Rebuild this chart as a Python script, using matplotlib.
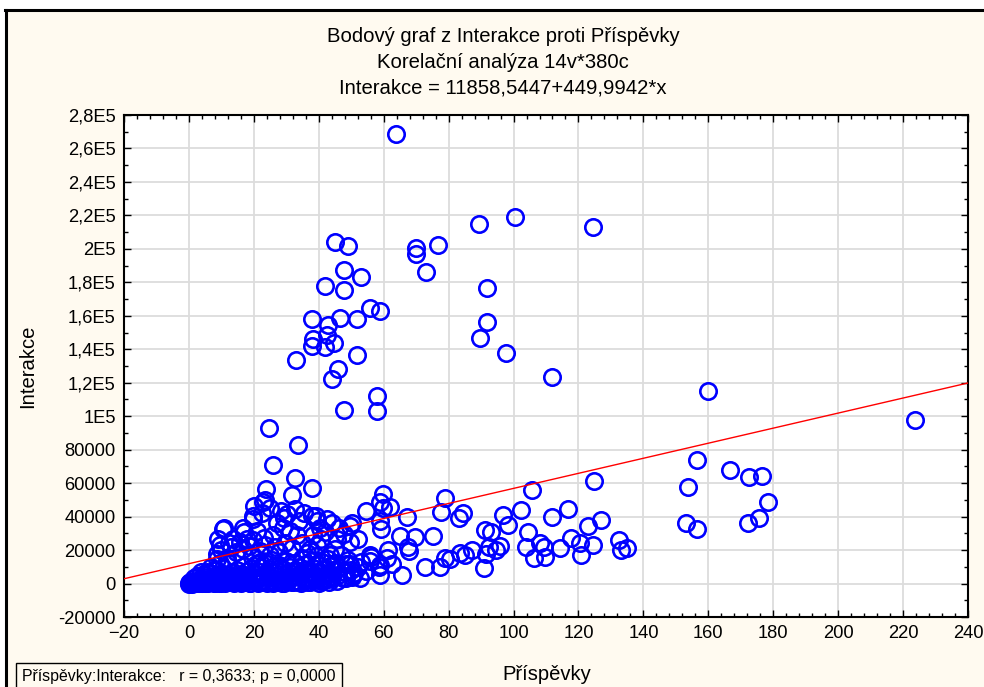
import matplotlib.pyplot as plt
from matplotlib.patches import Rectangle
from matplotlib.ticker import MultipleLocator, FuncFormatter

plt.rcParams['font.family'] = ['Liberation Sans', 'DejaVu Sans']

# Points: (Příspěvky, Interakce)
high_points = [
    (63.7, 268400), (100.3, 219000), (89.5, 215000), (124.6, 213000), (44.9, 204000),
    (48.9, 201700), (69.8, 200500), (69.8, 197000), (76.6, 202400), (72.9, 186000),
    (47.7, 187300), (52.9, 183000), (41.8, 177800), (47.7, 175400), (91.7, 176600),
    (55.7, 164400), (58.8, 162600), (46.5, 158400), (37.8, 158000), (51.7, 158000),
    (91.7, 156000), (42.8, 154800), (42.5, 148800), (38.2, 146000), (89.8, 146500),
    (37.8, 141800), (42.0, 141200), (44.6, 143600), (97.8, 137600), (51.7, 136400),
    (32.9, 133400), (45.8, 128500), (44.0, 122500), (111.7, 123700), (57.8, 112300),
    (57.8, 103300), (47.7, 103900), (160.0, 115300), (223.7, 97800), (24.6, 93000),
    (33.5, 82800), (25.8, 70700),
]

mid_points = [
    (156.6, 73600), (166.8, 67600), (176.6, 64000), (172.6, 63500), (124.9, 61000),
    (32.6, 63000), (153.8, 57500), (105.8, 55600), (23.7, 56300), (37.8, 56900),
    (59.7, 53400), (31.7, 52700), (178.5, 49000), (22.8, 49000), (78.8, 51100),
    (58.8, 48600), (54.5, 43200), (61.8, 45600), (67.1, 39600), (77.8, 42600),
    (84.3, 42000), (83.1, 39000), (96.9, 40800), (102.2, 43800), (116.9, 44400),
    (111.7, 39600), (126.8, 37800), (153.2, 36000), (156.6, 32300), (172.3, 36000),
    (175.7, 39000), (122.8, 34600), (19.7, 38300), (29.2, 38900), (10.5, 32300),
    (16.9, 31000), (49.5, 34100), (59.1, 32800), (64.9, 28600), (69.5, 28000),
    (75.1, 28600), (91.1, 31700), (93.2, 31000), (104.6, 31000), (98.2, 34700),
    (117.8, 27400), (132.6, 26200), (120.6, 24000), (124.6, 23300), (134.8, 21400),
    (133.2, 20200), (108.3, 24300), (109.5, 22000), (103.7, 22000), (109.8, 16000),
    (114.2, 21000), (120.9, 17300), (106.2, 15000), (67.7, 19700), (67.4, 22000),
    (87.1, 20200), (91.4, 17800), (94.5, 20200), (95.7, 22600), (92.3, 22000),
    (78.8, 15400), (80.3, 14800), (83.4, 18400), (85.2, 17300), (72.6, 10000),
    (77.2, 10000), (90.8, 9400), (65.5, 5200), (58.8, 5200), (62.5, 11800),
    (54.5, 7600), (50.2, 4000), (52.6, 3400), (48.3, 3400), (58.5, 10000),
    (55.7, 13700), (60.9, 15400), (61.2, 20200), (56.0, 16000),
]

cluster_points = [
    (23.4, 49800), (59.7, 44900), (58.8, 37100), (32.6, 44300), (30.2, 41300),
    (24.9, 44900), (19.7, 40100), (10.8, 32900), (8.9, 26900), (9.5, 23300),
    (16.6, 32900), (13.5, 26900), (17.8, 26900), (37.8, 40100), (42.5, 38300),
    (39.4, 37100), (40.3, 32900), (27.1, 35900), (28.9, 32900), (31.1, 31100),
    (33.2, 29300), (50.2, 35900), (52.0, 26900), (49.5, 25100), (45.5, 26900),
    (44.9, 20900), (43.4, 17300), (49.5, 11800), (50.5, 5200), (55.7, 17300),
    (58.8, 11200), (39.4, 23300), (37.2, 20900), (35.1, 14800), (41.2, 8800),
    (42.8, 2800), (8.6, 14800), (11.7, 13000), (5.5, 7000), (23.4, 23300),
    (24.9, 17300), (21.8, 13000), (19.7, 26300), (16.6, 20900), (20.9, 31100),
    (1.5, 3200), (2.5, 4500), (3.3, 2600), (4.5, 5600), (5.6, 3800),
    (6.4, 6200), (7.5, 4400), (8.3, 8000), (9.2, 5600), (10.4, 9300),
    (3.8, 7000), (6.9, 9600), (9.7, 12000), (11.8, 15500), (8.6, 17500),
    (10.0, 20000), (12.5, 24000), (14.5, 19000), (13.0, 22000), (15.7, 25000),
    (18.5, 22500), (21.8, 19500), (19.3, 16000), (23.0, 27500), (26.4, 22000),
    (27.8, 19000), (25.8, 29000), (29.6, 24500), (31.8, 21000), (34.8, 24000),
    (36.5, 18500), (38.3, 29000), (40.8, 26500), (41.9, 30500), (44.0, 36000),
    (46.3, 33000), (47.8, 29500), (39.2, 40500), (35.5, 42000), (33.8, 37500),
    (28.4, 43500), (22.4, 42000), (20.2, 46500),
]

low_points = [
    (0.0, 0), (0.3, 200), (0.6, 500), (1.0, 300), (1.2, 800), (1.5, 100), (2.0, 600),
    (2.3, 1200), (2.8, 400), (3.0, 900), (3.4, 1500), (3.9, 300), (4.2, 700), (4.6, 2000),
    (5.0, 1100), (5.3, 400), (5.8, 2600), (6.1, 1300), (6.5, 700), (7.0, 3000), (7.2, 1800),
    (7.7, 500), (8.1, 2200), (8.5, 1000), (9.0, 3500), (9.3, 600), (9.8, 1600), (10.2, 4200),
    (10.6, 2400), (11.0, 800), (0.1, 100), (0.4, 700), (0.8, 0), (1.1, 1000), (1.7, 400),
    (2.1, 150), (2.6, 900), (3.2, 250), (3.6, 1100), (4.0, 500), (4.4, 1300), (4.9, 200),
    (5.5, 1600), (6.0, 300), (6.8, 1400), (7.4, 900), (8.0, 400), (8.8, 2800), (9.5, 1300),
    (10.0, 300), (11.5, 3600), (12.0, 1200), (12.4, 5200), (12.8, 2500), (13.2, 700),
    (13.6, 6800), (14.0, 3900), (14.3, 1500), (14.8, 8200), (15.1, 4600), (15.5, 2200),
    (15.9, 900), (16.3, 5800), (16.7, 3100), (17.1, 10500), (17.5, 1700), (17.9, 7200),
    (18.3, 4000), (18.7, 600), (19.1, 9000), (19.5, 2800), (19.9, 5500), (20.3, 1300),
    (20.7, 11800), (21.1, 7600), (21.5, 3500), (21.9, 800), (22.3, 9600), (22.7, 5100),
    (23.1, 2100), (23.5, 12500), (23.9, 6400), (24.3, 1000), (24.7, 8500), (25.1, 3700),
    (25.5, 14000), (25.9, 600), (26.3, 10200), (26.7, 4800), (27.1, 2000), (27.5, 7400),
    (27.9, 11000), (28.3, 3000), (28.7, 500), (29.1, 8900), (29.5, 5600), (29.9, 13200),
    (30.3, 1600), (30.7, 6900), (31.1, 10000), (31.5, 3300), (31.9, 800), (32.3, 12000),
    (32.7, 7800), (33.1, 4600), (33.5, 1200), (33.9, 9800), (34.3, 5900), (34.7, 15500),
    (35.1, 2700), (35.5, 8300), (35.9, 11400), (36.3, 4000), (36.7, 900), (37.1, 6700),
    (37.5, 13500), (37.9, 2300), (38.3, 9200), (38.7, 5300), (39.1, 16500), (39.5, 3600),
    (39.9, 10800), (40.3, 7000), (40.7, 1500), (41.1, 12600), (41.5, 4400), (41.9, 8600),
    (42.3, 2800), (42.7, 14500), (43.1, 6200), (43.5, 10400), (44.0, 3900), (44.5, 7900),
    (45.0, 12300), (45.5, 1800), (46.0, 5200), (46.5, 9400), (47.0, 16800), (47.5, 3400),
    (48.0, 7100), (48.5, 11600), (49.0, 13900), (50.0, 8000), (51.0, 6000), (52.0, 10000),
    (53.0, 12800), (11.2, 300), (12.6, 900), (13.9, 200), (15.3, 1000), (16.1, 400),
    (17.4, 1200), (18.9, 300), (20.0, 2000), (21.3, 400), (22.6, 1500), (24.0, 300),
    (25.3, 2200), (26.6, 800), (28.0, 1400), (29.4, 200), (30.6, 2500), (32.0, 700),
    (33.3, 1800), (34.6, 400), (36.0, 2600), (37.4, 1100), (38.8, 3200), (40.1, 600),
    (41.4, 2000), (43.0, 900), (44.2, 3500),
]

# regression line Interakce = 11858,5447 + 449,9942*x
intercept = 11858.5447
slope = 449.9942
x_range = [-20, 240]

title_lines = ['Bodový graf z Interakce proti Příspěvky',
               'Korelační analýza 14v*380c',
               'Interakce = 11858,5447+449,9942*x']
footer = 'Příspěvky:Interakce:   r = 0,3633; p = 0,0000'

cream = '#fffaf0'
W, H = 984, 687
fig = plt.figure(figsize=(W / 100, H / 100), dpi=100, facecolor='white')

# cream panel with black border on left and top
fig.patches.append(Rectangle((5 / W, 0), 1, 1 - 10 / H, transform=fig.transFigure,
                             facecolor=cream, edgecolor='none', zorder=-10))
fig.add_artist(plt.Line2D([6 / W, 6 / W], [0, 1 - 10 / H], color='black', lw=2.2))
fig.add_artist(plt.Line2D([5 / W, 1], [1 - 10 / H, 1 - 10 / H], color='black', lw=2.2))

ax = fig.add_axes([124 / W, 1 - 617 / H, (968 - 124) / W, (617 - 115) / H])
ax.set_zorder(5)
ax.set_facecolor('white')

all_points = high_points + mid_points + cluster_points + low_points
xs = [p[0] for p in all_points]
ys = [p[1] for p in all_points]
ax.plot(xs, ys, linestyle='none', marker='o', ms=11.8, mfc='none', mec='#0000ff', mew=1.9,
        zorder=3, clip_on=False)

ax.plot(x_range, [intercept + slope * v for v in x_range], color='#ff0000', lw=1, zorder=4)

ax.set_xlim(-20, 240)
ax.set_ylim(-20000, 280000)
ax.xaxis.set_major_locator(MultipleLocator(20))
ax.xaxis.set_minor_locator(MultipleLocator(4))
ax.yaxis.set_major_locator(MultipleLocator(20000))
ax.yaxis.set_minor_locator(MultipleLocator(10000))


def fmt_y(v, pos):
    v = int(round(v))
    if abs(v) >= 100000:
        m = v / 100000
        s = ('%g' % m).replace('.', ',')
        return s + 'E5'
    return str(v)


ax.yaxis.set_major_formatter(FuncFormatter(fmt_y))
ax.grid(True, which='major', color='#dcdcdc', lw=1.3, zorder=0)
ax.set_axisbelow(True)
ax.tick_params(which='both', direction='in', top=True, right=True, color='black')
ax.tick_params(which='major', length=5, width=1, labelsize=13.2, pad=6)
ax.tick_params(which='minor', length=3, width=1)
for s in ax.spines.values():
    s.set_linewidth(1.5)

fig.text(547 / W, 1 - 675 / H, 'Příspěvky', ha='center', va='center', fontsize=14.6)
fig.text(28 / W, 1 - 366 / H, 'Interakce', ha='center', va='center', rotation=90, fontsize=14.6)

for i, line in enumerate(title_lines):
    fig.text(503 / W, 1 - (36 + 26 * i) / H, line, ha='center', va='center', fontsize=14.6)

fig.text(22 / W, 1 - 677 / H, footer, ha='left', va='center', fontsize=11.4,
         bbox=dict(boxstyle='square,pad=0.4', facecolor=cream, edgecolor='black', lw=1))

fig.savefig('out.png', dpi=100, facecolor=fig.get_facecolor())
